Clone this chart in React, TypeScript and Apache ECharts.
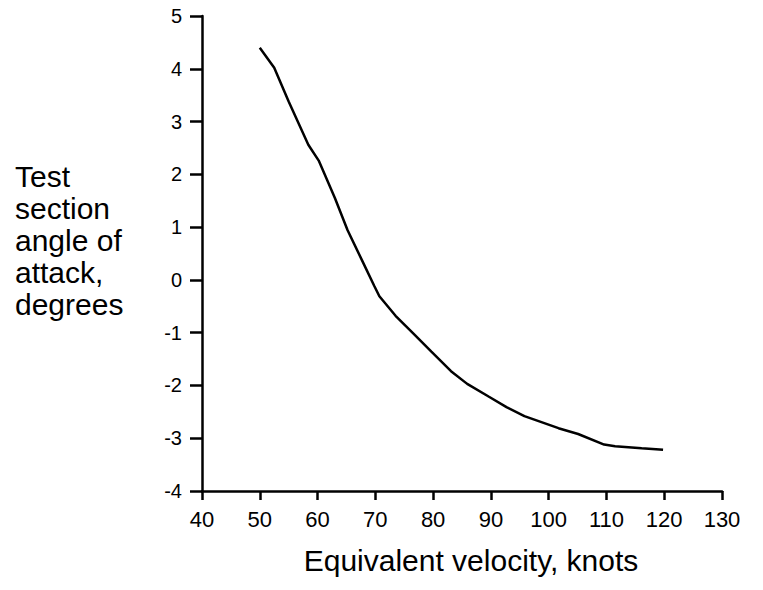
import React, { useEffect, useRef } from "react";
import * as echarts from "echarts";

const velocity = [50, 52.5, 55, 58.4, 60.2, 63, 65.2, 67.7, 69.8, 70.7, 73.5, 76.6, 79.7, 83.1, 85.9, 89.6, 92.7, 95.8, 101.7, 105.1, 109.6, 111.5, 116.1, 119.8];
const angle = [4.4, 4.02, 3.38, 2.56, 2.26, 1.55, 0.94, 0.37, -0.11, -0.31, -0.68, -1.02, -1.36, -1.73, -1.97, -2.21, -2.41, -2.58, -2.81, -2.92, -3.12, -3.15, -3.19, -3.22];
const yTitleLines = ["Test", "section", "angle of", "attack,", "degrees"];
const xTitle = "Equivalent velocity, knots";

export default function App() {
  const ref = useRef<HTMLDivElement>(null);
  useEffect(() => {
    if (!ref.current) return;
    const chart = echarts.init(ref.current, undefined, { renderer: "svg" });
    const font = "'Liberation Sans', Arial, Helvetica, sans-serif";
    chart.setOption({
      animation: false,
      backgroundColor: "#ffffff",
      grid: { left: 202, top: 16, width: 520, height: 475, containLabel: false },
      xAxis: {
        type: "value",
        min: 40,
        max: 130,
        interval: 10,
        name: xTitle,
        nameLocation: "middle",
        nameGap: 54,
        nameTextStyle: { fontFamily: font, fontSize: 30, color: "#000", padding: [0, 0, 0, 18] },
        axisLine: { show: true, onZero: false, lineStyle: { color: "#000", width: 2.5 } },
        axisTick: { show: true, inside: false, length: 9, lineStyle: { color: "#000", width: 2.5 } },
        axisLabel: { fontFamily: font, fontSize: 22, color: "#000", margin: 17 },
        splitLine: { show: false },
      },
      yAxis: {
        type: "value",
        min: -4,
        max: 5,
        interval: 1,
        axisLine: { show: true, onZero: false, lineStyle: { color: "#000", width: 2.5 } },
        axisTick: { show: true, inside: false, length: 12, lineStyle: { color: "#000", width: 2.5 } },
        axisLabel: { fontFamily: font, fontSize: 20, color: "#000", margin: 20 },
        splitLine: { show: false },
      },
      graphic: [
        {
          type: "text",
          left: 15,
          top: 160,
          style: {
            text: yTitleLines.join("\n"),
            fontFamily: font,
            fontSize: 30,
            lineHeight: 32,
            fill: "#000",
          },
        },
      ],
      series: [
        {
          type: "line",
          data: velocity.map((v, i) => [v, angle[i]]),
          showSymbol: false,
          smooth: false,
          lineStyle: { color: "#000", width: 2.5 },
        },
      ],
    });
    return () => chart.dispose();
  }, []);
  return <div ref={ref} style={{ width: 763, height: 590, position: "absolute", left: 0, top: 0 }} />;
}
